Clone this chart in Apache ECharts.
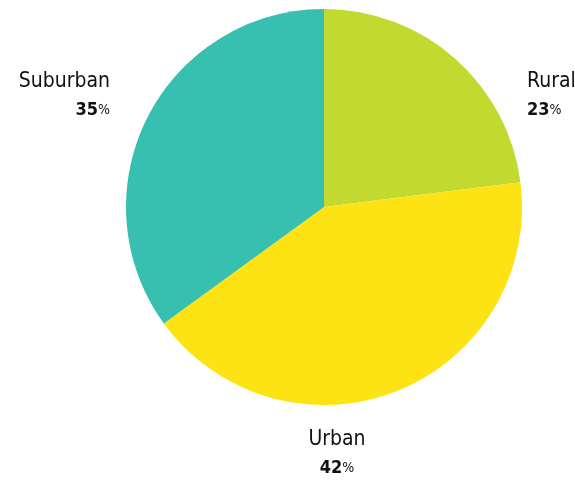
<!DOCTYPE html>
<html lang="en">
<head>
    <meta charset="UTF-8">
    <title>Pie</title>
    <script src="https://cdn.jsdelivr.net/npm/echarts@6/dist/echarts.min.js"></script>
    <style>
        *{margin:0;padding:0;}
        body,html{width:100%;height:100%;overflow:hidden;background:#fff;}
        .box{width:575px;height:480px;}
    </style>
</head>
<body>
<div class="box"></div>
<script>
    let names = ['Rural', 'Urban', 'Suburban'];
    let values = [23, 42, 35];
    let colors = ['#c2d92f', '#fde313', '#37bfb0'];

    // where each label sits
    let labelPos = [
        {x: 527, y: 95, align: 'left'},
        {x: 337, y: 453, align: 'center'},
        {x: 110, y: 95, align: 'right'}
    ];

    let font = '"DejaVu Sans Condensed", "Liberation Sans Narrow", sans-serif';

    let myChart = echarts.init(document.querySelector('.box'));

    let option = {
        animation: false,
        series: [{
            type: 'pie',
            center: [324, 207],
            radius: 198,
            startAngle: 90,
            clockwise: true,
            data: names.map((n, i) => ({
                name: n,
                value: values[i],
                itemStyle: {color: colors[i]}
            })),
            itemStyle: {borderWidth: 0},
            emphasis: {disabled: true},
            labelLine: {show: false},
            label: {
                show: true,
                position: 'outside',
                overflow: 'none',
                width: 200,
                formatter: p => '{n|' + p.name + '}\n{v|' + p.value + '}{p|%}',
                rich: {
                    n: {fontFamily: font, fontSize: 21, color: '#111', lineHeight: 31},
                    v: {fontFamily: font, fontSize: 18, fontWeight: 'bold', color: '#111', lineHeight: 26},
                    p: {fontFamily: font, fontSize: 14, color: '#111', lineHeight: 26}
                }
            },
            labelLayout: function (params) {
                let pos = labelPos[params.dataIndex];
                return {x: pos.x, y: pos.y, align: pos.align, verticalAlign: 'middle'};
            }
        }]
    };

    myChart.setOption(option);
</script>
</body>
</html>
